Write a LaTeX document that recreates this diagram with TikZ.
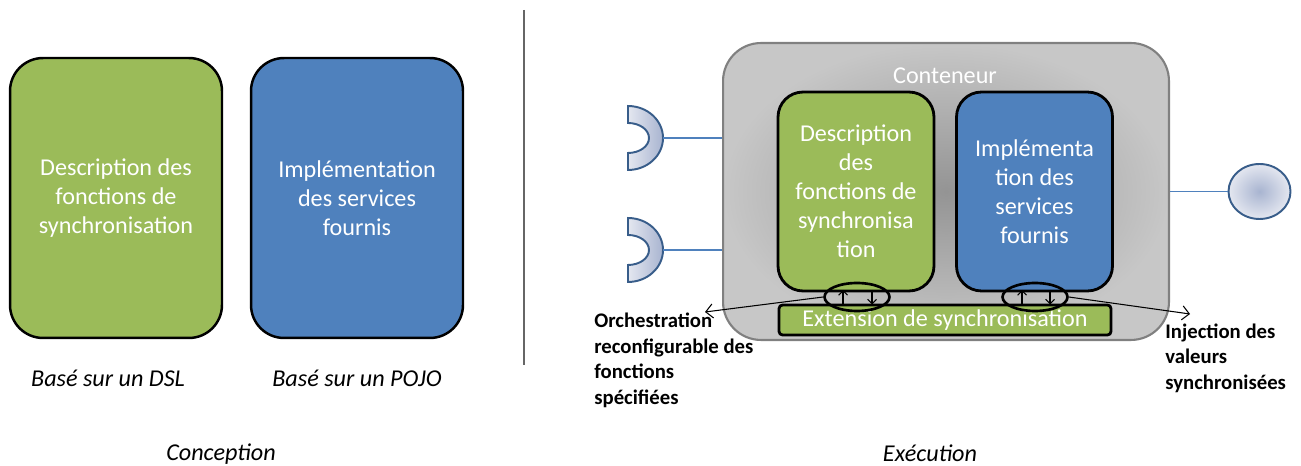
\documentclass[tikz,border=0pt]{standalone}
\usepackage{fontspec}
\setmainfont{Carlito}
\usepackage{xcolor}
\usetikzlibrary{shapes.geometric,arrows.meta}

\definecolor{boxgreen}{RGB}{155,187,89}
\definecolor{boxblue}{RGB}{79,129,189}
\definecolor{ifaceline}{RGB}{56,93,138}
\definecolor{ifacelight}{RGB}{228,231,240}
\definecolor{ifacedark}{RGB}{168,180,208}

\begin{document}
\begin{tikzpicture}[
    x=0.02cm, y=0.02cm,
    every node/.style={font=\fontsize{13.75}{16.5}\selectfont},
    >={Straight Barb[length=4pt,width=8pt]},
    wire/.style={draw=boxblue, line width=0.6pt},
    iface/.style={draw=ifaceline, line width=1.1pt}
]
\tikzstyle{bigbox} = [draw=black, line width=1.4pt, rounded corners=0.66cm, minimum width=4.24cm, minimum height=5.6cm, text=white, align=center]
\tikzstyle{innerbox} = [draw=black, line width=1.6pt, rounded corners=0.5cm, minimum width=3.12cm, minimum height=3.98cm, text=white, align=center]
\tikzstyle{caption} = [font=\fontsize{13.75}{16.5}\selectfont\itshape, inner sep=0pt]
\tikzstyle{note} = [font=\fontsize{11.8}{14.6}\selectfont\bfseries, align=left, anchor=west, inner sep=0pt]
\tikzstyle{junction} = [ellipse, draw=black, line width=1.5pt, minimum width=1.3cm, minimum height=0.56cm, inner sep=0pt]
\useasboundingbox (0,0) rectangle (1301,466);

% Conception side
\node[bigbox, fill=boxgreen] (dsl) at (116,268) {Description des\\fonctions de\\synchronisation};
\node[bigbox, fill=boxblue] (pojo) at (357,268) {Implémentation\\des services\\fournis};
\node[caption] (dsllabel) at (108,88) {Basé sur un DSL};
\node[caption] (pojolabel) at (357,88) {Basé sur un POJO};
\node[caption] (conception) at (221,12) {Conception};

% separator
\coordinate (septop) at (524,456);
\coordinate (sepbot) at (524,101);
\draw[black!60, line width=0.8pt] (septop) -- (sepbot);

% Execution side
\node[draw=black!50, line width=1.2pt, rounded corners=0.76cm, minimum width=8.92cm, minimum height=5.94cm, inner color=black!42, outer color=black!22] (cont) at (946,274.5) {};
\node[text=white] (conttitle) at (945,390) {Conteneur};
\node[innerbox, fill=boxgreen] (desc) at (856,274.5) {Description\\des\\fonctions de\\synchronisa\\tion};
\node[innerbox, fill=boxblue] (impl) at (1034.5,274.5) {Implémenta\\tion des\\services\\fournis};
\node[draw=black, line width=1.6pt, rounded corners=2pt, fill=boxgreen, text=white, minimum width=6.64cm, minimum height=0.6cm, inner sep=0pt] (ext) at (945,146) {Extension de synchronisation};
\node[caption] (execution) at (930,13) {Exécution};

% junctions between the boxes and the extension
\node[junction] (orch) at (857,169) {};
\node[junction] (inj) at (1035,169) {};
\draw[->, >={Straight Barb[length=2.5pt,width=5pt]}, line width=0.6pt] ([xshift=-0.28cm, yshift=-0.15cm]orch.center) -- ([xshift=-0.28cm, yshift=0.14cm]orch.center);
\draw[->, >={Straight Barb[length=2.5pt,width=5pt]}, line width=0.6pt] ([xshift=0.3cm, yshift=0.14cm]orch.center) -- ([xshift=0.3cm, yshift=-0.15cm]orch.center);
\draw[->, >={Straight Barb[length=2.5pt,width=5pt]}, line width=0.6pt] ([xshift=-0.26cm, yshift=-0.15cm]inj.center) -- ([xshift=-0.26cm, yshift=0.14cm]inj.center);
\draw[->, >={Straight Barb[length=2.5pt,width=5pt]}, line width=0.6pt] ([xshift=0.3cm, yshift=0.14cm]inj.center) -- ([xshift=0.3cm, yshift=-0.15cm]inj.center);

% leader lines to the notes
\coordinate (orchend) at (705,154);
\coordinate (injend) at (1190,152);
\draw[->, line width=0.6pt] (orch.west) -- (orchend);
\draw[->, line width=0.6pt] (inj.east) -- (injend);
\node[note] (orchnote) at (594,105.5) {Orchestration\\reconfigurable des\\fonctions\\spécifiées};
\node[note] (injnote) at (1165,108) {Injection des\\valeurs\\synchronisées};

% required interfaces
\foreach \y [count=\i] in {328,216} {
    \draw[iface, left color=ifacelight, right color=ifacedark] (628,\y+32) arc[start angle=90, end angle=-90, x radius=0.7cm, y radius=0.64cm] -- ++(0,17) arc[start angle=-90, end angle=90, x radius=0.42cm, y radius=0.3cm] -- cycle;
    \coordinate (req\i) at (663,\y);
    \draw[wire] (req\i) -- (req\i -| cont.west);
}

% provided interface
\node[ellipse, iface, inner color=ifacedark, outer color=ifacelight, minimum width=1.24cm, minimum height=1.1cm, inner sep=0pt] (prov) at (1259.5,274.5) {};
\draw[wire] (cont.east) -- (prov.west);
\end{tikzpicture}
\end{document}
